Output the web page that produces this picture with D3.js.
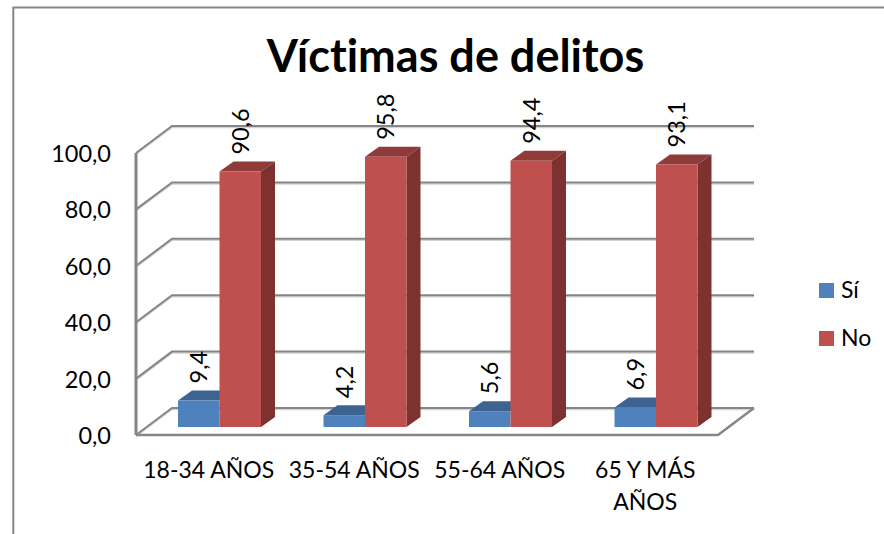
<!DOCTYPE html>
<html><head><meta charset="utf-8">
<script src="https://cdn.jsdelivr.net/npm/d3@7"></script>
<style>html,body{margin:0;padding:0;background:#fff}svg{display:block}text{font-family:Lato,"Open Sans",sans-serif;fill:#000;font-variant-ligatures:none}</style>
</head><body><svg id="c" width="884" height="534"></svg>
<script>
const categories = ["18-34 AÑOS","35-54 AÑOS","55-64 AÑOS","65 Y MÁS AÑOS"];
const series = ["Sí","No"];
const siValues = [9.4,4.2,5.6,6.9];
const noValues = [90.6,95.8,94.4,93.1];
const yTicks = [0,20,40,60,80,100];
const colors = {"Sí":{f:"#4f81bd",t:"#3d6491"},"No":{f:"#c0504d",t:"#8f3b39",s:"#7d3230"}};
const fmt = v => v.toFixed(1).replace(".",",");
const svg = d3.select("#c");
svg.append("path").attr("d","M13.3,534V7.6H884").attr("fill","none").attr("stroke","#868686").attr("stroke-width",2);
svg.append("text").attr("x",455.5).attr("y",72).attr("text-anchor","middle").attr("font-size",45).attr("font-weight",700).text("Víctimas de delitos");

const x = d3.scaleBand().domain(categories).range([136,718]);
const y = d3.scaleLinear().domain([0,100]).range([435,153]);
const depth = {x:36,y:-27};
const barDepth = {x:14,y:-10};
const barOff = {x:42,y:-8};
const barW = 41.5;
const inner = d3.scaleBand().domain(series).range([0,barW*2]);
const g = svg.append("g");
const axisCol = "#868686";
const line = (p,w=2)=>g.append("path").attr("d",d3.line()(p)).attr("fill","none").attr("stroke",axisCol).attr("stroke-width",w);
yTicks.forEach(t=>{
  const yy=y(t);
  g.append("path").attr("d",d3.line()([[136,yy+1.5],[136+depth.x,yy+depth.y+1.5],[718+depth.x,yy+depth.y+1.5]])).attr("fill","none").attr("stroke","#d4d4d4").attr("stroke-width",1.5);
  line([[136,yy],[136+depth.x,yy+depth.y],[718+depth.x,yy+depth.y]]);
});
line([[136,y(100)],[136,y(0)]],3);
line([[136,y(0)],[718,y(0)],[718+depth.x,y(0)+depth.y]],2.5);
yTicks.forEach(t=>svg.append("text").attr("x",111).attr("y",y(t)+9).attr("text-anchor","end").attr("font-size",23.5).text(fmt(t)));
const h = v => y(0)-y(v);
function bar(cat,s,v){
  const x0=x(cat)+barOff.x+inner(s), x1=x0+inner.bandwidth();
  const by=y(0)+barOff.y, ty=by-h(v);
  const c=colors[s], dx=barDepth.x, dy=barDepth.y;
  g.append("path").attr("d",d3.line()([[x0,ty],[x0+dx,ty+dy],[x1+dx,ty+dy],[x1,ty]])).attr("fill",c.t);
  if(c.s) g.append("path").attr("d",d3.line()([[x1,ty],[x1+dx,ty+dy],[x1+dx,by+dy],[x1,by]])).attr("fill",c.s);
  g.append("rect").attr("x",x0).attr("y",ty).attr("width",x1-x0).attr("height",by-ty).attr("fill",c.f);
  svg.append("text").attr("transform",`translate(${x0+29},${ty-17}) rotate(-90)`).attr("font-size",23.5).text(fmt(v));
}
categories.forEach((c,i)=>{bar(c,"Sí",siValues[i]);});
categories.forEach((c,i)=>{bar(c,"No",noValues[i]);});
const catLines = [["18-34 AÑOS"],["35-54 AÑOS"],["55-64 AÑOS"],["65 Y MÁS","AÑOS"]];
categories.forEach((c,i)=>{
  catLines[i].forEach((l,j)=>svg.append("text").attr("x",x(c)+x.bandwidth()/2).attr("y",478+j*32).attr("text-anchor","middle").attr("font-size",23).text(l));
});
series.forEach((s,i)=>{
  svg.append("rect").attr("x",819).attr("y",283+i*48).attr("width",15).attr("height",15).attr("fill",colors[s].f);
  svg.append("text").attr("x",841).attr("y",298+i*48).attr("font-size",23).text(s);
});
</script></body></html>
